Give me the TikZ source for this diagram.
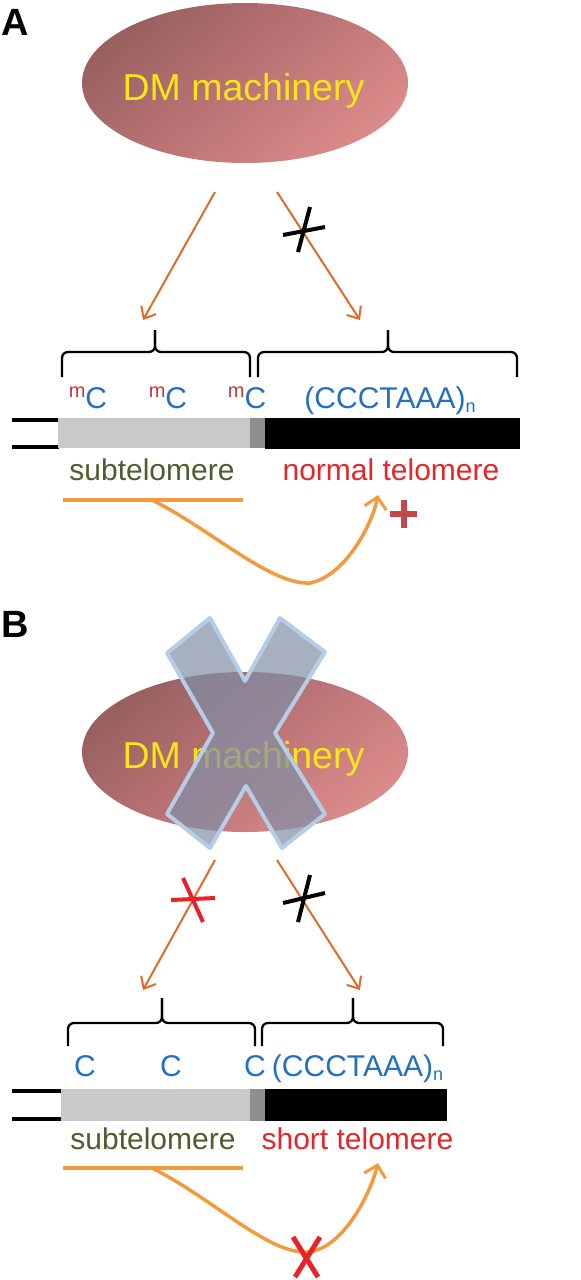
\documentclass[tikz,border=0pt]{standalone}
\usepackage{fontspec}
\setmainfont{Liberation Sans}
\usetikzlibrary{shapes.geometric,arrows.meta}
\definecolor{arr}{HTML}{E06A28}
\definecolor{curv}{HTML}{F39A3E}
\definecolor{cblue}{HTML}{2370C0}
\definecolor{mred}{HTML}{C0393B}
\definecolor{olive}{HTML}{4B5E2B}
\definecolor{tred}{HTML}{E2262A}
\definecolor{dmyel}{HTML}{F7E61A}
\definecolor{ellA}{HTML}{98605F}
\definecolor{ellM}{HTML}{BC7476}
\definecolor{ellB}{HTML}{DA8B89}
\definecolor{xfill}{rgb}{0.5,0.56,0.65}
\definecolor{xedge}{HTML}{B6CDE6}
\definecolor{lgray}{HTML}{C9C9C9}
\definecolor{dgray}{HTML}{8F8F8F}
\definecolor{plusred}{HTML}{C4474A}
\definecolor{xred}{HTML}{E82226}
\newcommand\mCyt{\raisebox{11pt}{\color{mred}\fontsize{20}{20}\selectfont m}C}
\newcommand\subnyt{\raisebox{-4pt}{\fontsize{18}{18}\selectfont n}}
\begin{document}
\begin{tikzpicture}[x=1pt,y=-1pt,
  panellab/.style={font=\bfseries\fontsize{38}{38}\selectfont, inner sep=0pt, anchor=base west},
  dmell/.style={ellipse, minimum width=326pt, minimum height=160pt, inner sep=0pt, top color=ellA, bottom color=ellB, middle color=ellM, shading angle=40},
  dmtext/.style={font=\fontsize{37.5}{40}\selectfont, text=dmyel, inner sep=0pt, anchor=base},
  cbase/.style={font=\fontsize{30}{30}\selectfont, text=cblue, inner sep=0pt, anchor=base},
  subtel/.style={font=\fontsize{30}{30}\selectfont, text=olive, inner sep=0pt, anchor=base},
  tel/.style={font=\fontsize{30}{30}\selectfont, text=tred, inner sep=0pt, anchor=base},
  arrowst/.style={draw=arr, line width=2pt, -{Straight Barb[length=10pt,width=17pt,line width=2pt]}},
  bracest/.style={draw=black, line width=2.3pt, rounded corners=6pt},
  blackx/.style={draw=black, line width=4pt},
  redx/.style={draw=xred, line width=4pt},
  curvest/.style={draw=curv, line width=3.5pt, -{Straight Barb[length=11pt,width=22pt,line width=3pt]}},
  uline/.style={draw=curv, line width=4pt},
  bigx/.style={draw=xedge, line width=4pt, line join=round, fill=xfill, fill opacity=0.7}
]
\useasboundingbox (0,0) rectangle (581,1280);

% ================= Panel A =================
\node[panellab] (labA) at (1,35) {A};
\node[dmell] (ellA) at (245,83) {};
\node[dmtext] (dmtA) at (243.5,100) {DM machinery};

\coordinate (aLs) at (215,192); \coordinate (aLe) at (143,320);
\coordinate (aRs) at (277,192); \coordinate (aRe) at (360,320);
\draw[arrowst] (aLs) -- (aLe);
\draw[arrowst] (aRs) -- (aRe);
\draw[blackx] (283,235) -- (325,227);
\draw[blackx] (310,207) -- (298,252);

% braces A
\draw[bracest] (62,377) -- (62,352) -- (155,352) -- (155,330);
\draw[bracest] (155,330) -- (155,352) -- (250,352) -- (250,377);
\draw[bracest] (258,377) -- (258,352) -- (388,352) -- (388,330);
\draw[bracest] (388,330) -- (388,352) -- (517,352) -- (517,377);

% labels above bar A
\node[cbase] (mc1A) at (88,408) {\mCyt};
\node[cbase] (mc2A) at (168,408) {\mCyt};
\node[cbase] (mc3A) at (247,408) {\mCyt};
\node[cbase] (repA) at (390,408) {(CCCTAAA)\subnyt};

% bar A
\draw[line width=4pt] (12,419.5) -- (59,419.5);
\draw[line width=4pt] (12,447) -- (59,447);
\fill[lgray] (58,418) rectangle (250,448);
\fill[dgray] (250,418) rectangle (265,448);
\fill[black] (265,418) rectangle (520,449);

\node[subtel] (subA) at (152,480) {subtelomere};
\node[tel] (telA) at (391,480) {normal telomere};
\coordinate (ulAl) at (63,500); \coordinate (ulAr) at (243,500);
\draw[uline] (ulAl) -- (ulAr);
\coordinate (cAs) at (152,500); \coordinate (cAb) at (310,583); \coordinate (cAe) at (378,495);
\draw[curvest] (cAs) .. controls (212,530) and (270,585) .. (cAb) .. controls (345,576) and (372,525) .. (cAe);
\draw[draw=plusred, line width=6pt] (390,514) -- (417,514);
\draw[draw=plusred, line width=6pt] (403.5,500) -- (403.5,528);

% ================= Panel B =================
\node[panellab] (labB) at (1,637) {B};
\node[dmell] (ellBn) at (245,752) {};
\node[dmtext] (dmtB) at (243.5,768) {DM machinery};
\draw[bigx] (167,653) -- (210,618) -- (245,681) -- (280,618) -- (325,652) -- (275,733)
  -- (325,814) -- (282,848) -- (246,786) -- (210,848) -- (167,814) -- (213,733) -- cycle;

\coordinate (bLs) at (215,860); \coordinate (bLe) at (143,990);
\coordinate (bRs) at (277,860); \coordinate (bRe) at (360,990);
\draw[arrowst] (bLs) -- (bLe);
\draw[arrowst] (bRs) -- (bRe);
\draw[redx] (171,900) -- (215,898);
\draw[redx] (183,878) -- (203,922);
\draw[blackx] (283,903) -- (325,893);
\draw[blackx] (310,875) -- (298,922);

% braces B
\draw[bracest] (68,1046) -- (68,1023) -- (162,1023) -- (162,998);
\draw[bracest] (162,998) -- (162,1023) -- (255,1023) -- (255,1046);
\draw[bracest] (262,1046) -- (262,1023) -- (353,1023) -- (353,998);
\draw[bracest] (353,998) -- (353,1023) -- (443,1023) -- (443,1046);

\node[cbase] (c1B) at (85,1076) {C};
\node[cbase] (c2B) at (171,1076) {C};
\node[cbase] (c3B) at (255,1076) {C};
\node[cbase] (repB) at (357.5,1076) {(CCCTAAA)\subnyt};

% bar B
\draw[line width=4pt] (12,1091) -- (62,1091);
\draw[line width=4pt] (12,1119) -- (62,1119);
\fill[lgray] (61,1089) rectangle (250,1121);
\fill[dgray] (250,1089) rectangle (265,1121);
\fill[black] (265,1089) rectangle (447,1121);

\node[subtel] (subB) at (153,1149) {subtelomere};
\node[tel] (telB) at (357.5,1149) {short telomere};
\coordinate (ulBl) at (63,1168); \coordinate (ulBr) at (243,1168);
\draw[uline] (ulBl) -- (ulBr);
\coordinate (cBs) at (152,1168); \coordinate (cBb) at (307,1252); \coordinate (cBe) at (378,1163);
\draw[curvest] (cBs) .. controls (212,1198) and (268,1254) .. (cBb) .. controls (342,1250) and (370,1195) .. (cBe);
\draw[draw=xred, line width=5pt] (293,1237) -- (318,1277);
\draw[draw=xred, line width=5pt] (320,1237) -- (295,1277);
\end{tikzpicture}
\end{document}
